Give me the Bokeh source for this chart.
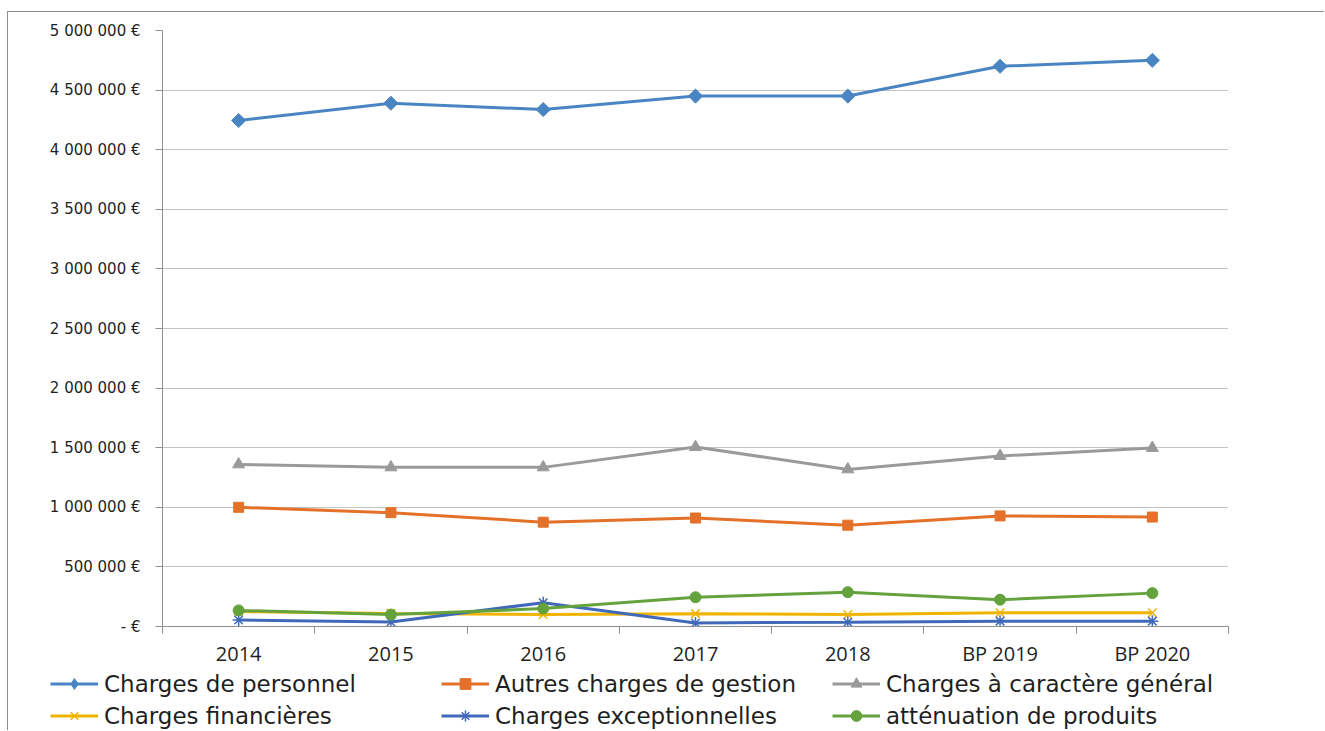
import math

from bokeh.plotting import figure
from bokeh.models import (FixedTicker, Legend, LegendItem, Range1d)
from bokeh.embed import file_html
from bokeh.resources import INLINE

# Years / budget columns
years = ["2014", "2015", "2016", "2017", "2018", "BP 2019", "BP 2020"]

# Expense categories (in euros)
charges_personnel = [4245000, 4390000, 4337000, 4450000, 4450000, 4700000, 4750000]
autres_charges_gestion = [1000000, 955000, 875000, 910000, 850000, 928000, 918000]
charges_caractere_general = [1360000, 1335000, 1335000, 1505000, 1318000, 1430000, 1498000]
charges_financieres = [125000, 110000, 100000, 108000, 100000, 115000, 115000]
charges_exceptionnelles = [55000, 38000, 200000, 30000, 36000, 45000, 45000]
attenuation_produits = [135000, 100000, 150000, 245000, 288000, 225000, 280000]

# Value axis ticks
y_ticks = [0, 500000, 1000000, 1500000, 2000000, 2500000,
           3000000, 3500000, 4000000, 4500000, 5000000]


def euro_label(v):
    if v == 0:
        return "- \u20ac"
    return f"{v:,}".replace(",", " ") + " \u20ac"


# each year sits in the middle of its band
xs = [i + 0.5 for i in range(len(years))]
bounds = list(range(len(years) + 1))

p = figure(width=1317, height=658, output_backend="svg", toolbar_location=None,
           x_range=Range1d(0, len(years)), y_range=Range1d(0, y_ticks[-1]),
           min_border_left=154, min_border_right=97, min_border_top=18,
           min_border_bottom=44)
p.styles = {"border-top": "1px solid #8c8c8c", "border-left": "1px solid #8c8c8c",
            "margin-left": "7px", "margin-top": "11px"}
p.outline_line_color = None
p.background_fill_color = "white"
p.border_fill_color = "white"

# y axis
p.yaxis.ticker = FixedTicker(ticks=y_ticks)
p.yaxis.major_label_overrides = {t: euro_label(t) for t in y_ticks}
p.yaxis.axis_line_color = "#8f8f8f"
p.yaxis.major_tick_line_color = "#8f8f8f"
p.yaxis.major_tick_out = 7
p.yaxis.major_tick_in = 0
p.yaxis.minor_tick_line_color = None
p.yaxis.major_label_standoff = 15
p.yaxis.major_label_text_font = "DejaVu Sans"
p.yaxis.major_label_text_font_size = "15px"
p.yaxis.major_label_text_color = "#1f1f1f"

# x axis: labels at band centres, ticks at band boundaries
p.xaxis.ticker = FixedTicker(ticks=xs, minor_ticks=bounds)
p.xaxis.major_label_overrides = {x: y for x, y in zip(xs, years)}
p.xaxis.axis_line_color = "#8f8f8f"
p.xaxis.major_tick_line_color = None
p.xaxis.minor_tick_line_color = "#8f8f8f"
p.xaxis.minor_tick_out = 7
p.xaxis.minor_tick_in = 0
p.xaxis.major_label_standoff = 6
p.xaxis.major_label_text_font = "Open Sans"
p.xaxis.major_label_text_font_size = "20px"
p.xaxis.major_label_text_color = "#1f1f1f"

p.xgrid.grid_line_color = None
p.ygrid.ticker = FixedTicker(ticks=y_ticks)
p.ygrid.grid_line_color = "#c4c4c4"
p.ygrid.grid_line_width = 1

# name, values, colour, marker, size, rotation, legend marker
series = [
    ("Charges de personnel", charges_personnel, "#4A85C3", "square", 10, math.pi / 4, "diamond"),
    ("Autres charges de gestion", autres_charges_gestion, "#E3712A", "square", 10, 0, "square"),
    ("Charges \u00e0 caract\u00e8re g\u00e9n\u00e9ral", charges_caractere_general, "#9A9A9A", "triangle", 12, 0, "triangle"),
    ("Charges financi\u00e8res", charges_financieres, "#F0B400", "x", 12, 0, "x"),
    ("Charges exceptionnelles", charges_exceptionnelles, "#4169BA", "asterisk", 12, 0, "asterisk"),
    ("att\u00e9nuation de produits", attenuation_produits, "#63A23C", "circle", 11, 0, "circle"),
]

# legend strip under the chart; its own copies of the series sit outside
# its (negative) y range so only the legend samples show
leg = figure(width=1317, height=61, output_backend="svg", toolbar_location=None,
             x_axis_location=None, y_axis_location=None,
             x_range=Range1d(0, len(years)), y_range=Range1d(-2, -1),
             min_border_left=0, min_border_right=0, min_border_top=0,
             min_border_bottom=0)
leg.styles = {"border-left": "1px solid #8c8c8c", "margin-left": "7px"}
leg.outline_line_color = None
leg.grid.visible = False

items = []
for name, vals, color, marker, size, angle, leg_marker in series:
    if marker in ("x", "asterisk"):
        kw = dict(line_color=color, line_width=1.5)
        leg_kw = dict(kw)
    else:
        kw = dict(fill_color=color, line_color=color, angle=angle)
        leg_kw = dict(fill_color=color, line_color=color)
    p.line(xs, vals, line_color=color, line_width=3)
    p.scatter(xs, vals, marker=marker, size=size, **kw)
    ln = leg.line(xs, vals, line_color=color, line_width=3)
    sc = leg.scatter(xs, vals, marker=leg_marker, size=size, **leg_kw)
    items.append(LegendItem(label=name, renderers=[ln, sc]))

legend = Legend(items=items, ncols=3, location=(42, 1),
                orientation="horizontal",
                label_text_font="DejaVu Sans", label_text_font_size="23px",
                label_text_color="#1f1f1f",
                glyph_width=48, glyph_height=27, label_standoff=6,
                label_width=332, label_height=20, spacing=5,
                padding=0, margin=0,
                border_line_color=None, background_fill_alpha=0)
leg.add_layout(legend, "center")

open("out.html", "w").write(file_html([p, leg], INLINE))
